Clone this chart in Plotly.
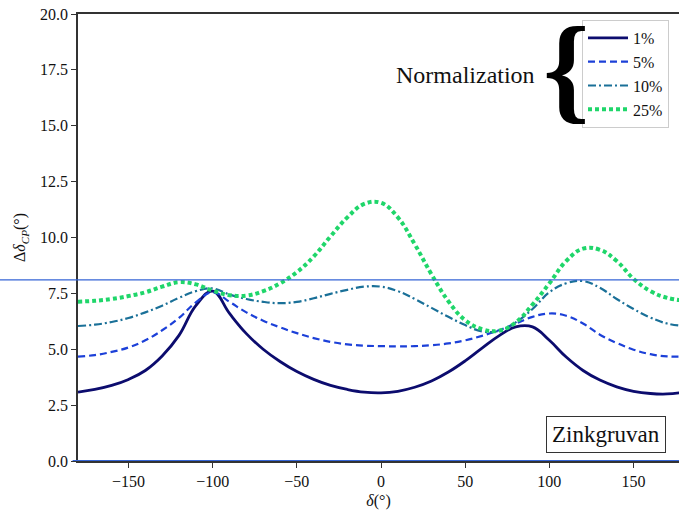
import plotly.graph_objects as go

delta = [-180, -170, -160, -150, -140, -130, -120, -110, -100, -90, -80, -70, -60, -50, -40,
         -30, -20, -10, 0, 10, 20, 30, 40, 50, 60, 70, 80, 90, 100, 110, 120, 130, 140, 150,
         160, 170, 180]

norm_1 = [3.08, 3.2, 3.38, 3.65, 4.05, 4.7, 5.62, 6.95, 7.6, 6.6, 5.7, 5.0, 4.45, 4.0, 3.65,
          3.38, 3.2, 3.08, 3.05, 3.12, 3.3, 3.58, 3.98, 4.48, 5.05, 5.6, 6.0, 6.0, 5.4, 4.65,
          4.05, 3.62, 3.32, 3.12, 3.02, 3.0, 3.08]
norm_5 = [4.67, 4.74, 4.88, 5.08, 5.4, 5.85, 6.4, 7.1, 7.55, 7.12, 6.65, 6.28, 5.98, 5.72, 5.5,
          5.33, 5.22, 5.16, 5.14, 5.13, 5.14, 5.18, 5.26, 5.4, 5.6, 5.85, 6.15, 6.45, 6.6, 6.5,
          6.15, 5.65, 5.28, 4.98, 4.78, 4.68, 4.67]
norm_10 = [6.04, 6.1, 6.22, 6.4, 6.65, 6.95, 7.3, 7.6, 7.72, 7.45, 7.25, 7.12, 7.06, 7.12, 7.28,
           7.48, 7.66, 7.8, 7.8, 7.6, 7.25, 6.85, 6.45, 6.08, 5.8, 5.82, 6.2, 6.8, 7.55, 7.95,
           8.05, 7.75, 7.25, 6.8, 6.42, 6.15, 6.04]
norm_25 = [7.13, 7.17, 7.25, 7.38, 7.55, 7.8, 8.0, 7.9, 7.62, 7.42, 7.4, 7.6, 7.95, 8.45, 9.15,
           10.05, 10.9, 11.5, 11.55, 10.9, 9.7, 8.35, 7.15, 6.3, 5.9, 5.83, 6.2, 7.0, 7.95, 8.95,
           9.5, 9.45, 8.95, 8.15, 7.6, 7.3, 7.18]

labels = ["1%", "5%", "10%", "25%"]
series = [norm_1, norm_5, norm_10, norm_25]
colors = ["#0c0c6e", "#1c40d8", "#1a7098", "#1fd66a"]
dashes = ["solid", "7px,4px", "8px,3px,2px,3px", "4px,3px"]
widths = [2.8, 2.2, 2.2, 4.0]

x_tick_vals = [-150, -100, -50, 0, 50, 100, 150]
y_tick_vals = [0, 2.5, 5, 7.5, 10, 12.5, 15, 17.5, 20]
ref_level = 8.1

SERIF = "Liberation Serif"
L, T, PW, PH = 78, 14, 601, 447


def px_to_paper(px, py):
    return (px - L) / PW, (T + PH - py) / PH


fig = go.Figure()
for i, (lab, ys) in enumerate(zip(labels, series)):
    fig.add_trace(go.Scatter(
        x=delta, y=ys, mode="lines", name=lab, legendgroup=lab,
        line=dict(color=colors[i], dash=dashes[i], width=widths[i], shape="spline", smoothing=1.2),
    ))

blue = "#3565d6"
fig.add_shape(type="line", xref="paper", yref="y", x0=-0.2, x1=1.0, y0=ref_level, y1=ref_level,
              line=dict(color=blue, width=1.2))
fig.add_shape(type="line", xref="paper", yref="y", x0=-0.009, x1=1.0, y0=0, y1=0,
              line=dict(color=blue, width=2))

zx, zy = px_to_paper(606, 434)
fig.add_annotation(xref="paper", yref="paper", x=zx, y=zy, text="Zinkgruvan",
                   xanchor="center", yanchor="middle",
                   showarrow=False, font=dict(family=SERIF, size=23, color="#111"),
                   bordercolor="#333", borderwidth=1, borderpad=5, bgcolor="white")
nx, ny = px_to_paper(394, 75)
fig.add_annotation(xref="paper", yref="paper", x=nx, y=ny, text="Normalization",
                   showarrow=False, font=dict(family=SERIF, size=24, color="#111"),
                   xanchor="left", yanchor="middle")
bx, by = px_to_paper(566, 69)
fig.add_annotation(xref="paper", yref="paper", x=bx, y=by, text="<b>{</b>",
                   showarrow=False, font=dict(family=SERIF, size=118, color="#000"),
                   xanchor="center", yanchor="middle")

lx, ly = px_to_paper(582, 20)
fig.update_layout(
    width=679, height=513,
    margin=dict(l=L, r=0, t=T, b=513 - T - PH),
    plot_bgcolor="white", paper_bgcolor="white",
    font=dict(family=SERIF, size=16, color="#111"),
    showlegend=True,
    legend=dict(x=lx, y=ly, xanchor="left", yanchor="top",
                bordercolor="#cccccc", borderwidth=1, bgcolor="white",
                font=dict(family=SERIF, size=16, color="#111"), tracegroupgap=0,
                itemwidth=40),
    xaxis=dict(range=[-180, 177], tickvals=x_tick_vals, showgrid=False, zeroline=False,
               showline=True, mirror=True, linecolor="#333", linewidth=1.5,
               ticks="outside", ticklen=5, tickcolor="#333",
               title=dict(text="<i>δ</i>(°)", font=dict(family=SERIF, size=16), standoff=6)),
    yaxis=dict(range=[0, 20], tickvals=y_tick_vals, tickformat=".1f", showgrid=False,
               zeroline=False, showline=True, linecolor="#333", linewidth=1.5,
               ticks="outside", ticklen=5, tickcolor="#333",
               title=dict(text="Δ<i>δ</i><sub><i>CP</i></sub>(°)", font=dict(family=SERIF, size=16),
                          standoff=10)),
)

fig.write_html("out.html")
